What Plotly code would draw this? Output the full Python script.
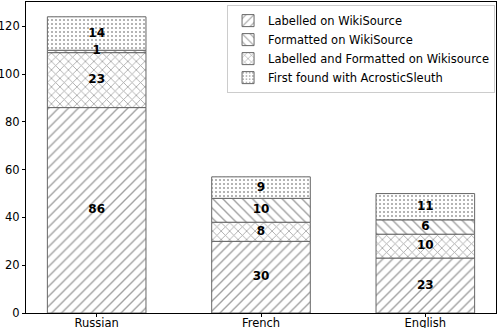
import plotly.graph_objects as go
import numpy as np

languages = ["Russian", "French", "English"]
labelled = [86, 30, 23]
labelled_formatted = [23, 8, 10]
formatted = [1, 10, 6]
first_found = [14, 9, 11]

# stacking order (bottom to top) and legend order
stack = [
    ("Labelled on WikiSource", labelled, "/", 1, 7, 0.2),
    ("Labelled and Formatted on Wikisource", labelled_formatted, "x", 3, 6, 0.25),
    ("Formatted on WikiSource", formatted, "\\", 2, 7, 0.2),
    ("First found with AcrosticSleuth", first_found, ".", 4, 4, 0.22),
]

xs = list(range(len(languages)))
fig = go.Figure()
base = np.zeros(len(languages))
label_x, label_y, label_t = [], [], []
for name, vals, shape, rank, psize, sol in stack:
    vals = np.array(vals, dtype=float)
    fig.add_trace(go.Bar(
        x=xs, y=vals, base=base, name=name, width=0.6,
        legendrank=rank,
        marker=dict(color="white", line=dict(color="#666666", width=1),
                    pattern=dict(shape=shape, fgcolor="#444444", bgcolor="white",
                                 size=psize, solidity=sol)),
        hoverinfo="skip",
    ))
    for i, v in enumerate(vals):
        label_x.append(xs[i]); label_y.append(base[i] + v / 2); label_t.append(f"<b>{int(v)}</b>")
    base = base + vals

fig.add_trace(go.Scatter(x=label_x, y=label_y, text=label_t, mode="text",
                         textfont=dict(family="DejaVu Sans", size=12, color="black"),
                         showlegend=False, hoverinfo="skip"))

fig.update_layout(
    barmode="overlay",
    width=498, height=328,
    margin=dict(l=26, r=2, t=2, b=15, autoexpand=False),
    plot_bgcolor="white", paper_bgcolor="white",
    font=dict(family="DejaVu Sans", size=11.5, color="black"),
    showlegend=True,
    legend=dict(x=0.998, y=0.99, xanchor="right", yanchor="top",
                bordercolor="#cccccc", borderwidth=1, bgcolor="white",
                font=dict(size=11.5), tracegroupgap=0, itemwidth=30),
)
fig.update_xaxes(range=[-0.43, 2.43], tickvals=xs, ticktext=languages, automargin=False,
                 showline=True, linecolor="black", linewidth=1, mirror=True,
                 ticks="outside", ticklen=3, tickcolor="black", showgrid=False, zeroline=False,
                 ticklabelstandoff=-4)
fig.update_yaxes(range=[0, 130.2], tickvals=[0, 20, 40, 60, 80, 100, 120], automargin=False,
                 showline=True, linecolor="black", linewidth=1, mirror=True,
                 ticks="outside", ticklen=3, tickcolor="black", showgrid=False, zeroline=False)

fig.write_html("out.html", config={"displayModeBar": False},
               post_script="document.body.style.margin='0';document.body.style.overflow='hidden';")
